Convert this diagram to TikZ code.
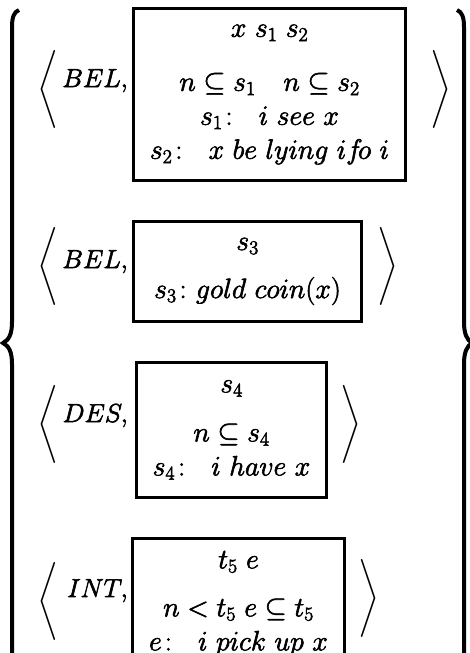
\RequirePackage{fix-cm}
\documentclass[tikz,border=0pt]{standalone}
\usepackage{amsmath,amssymb}
\usepackage{tikz}
\usetikzlibrary{positioning}
\newcommand{\angopen}{$\left\langle\vrule height 43pt depth 43pt width 0pt\right.$}
\newcommand{\angclose}{$\left.\vrule height 43pt depth 43pt width 0pt\right\rangle$}
\newcommand{\inkheavy}{\special{pdf:literal direct 2 Tr 0.6 w}}

\begin{document}
\begin{tikzpicture}[x=1pt,y=-1pt,font=\fontsize{26}{34}\selectfont,
   drs/.style={draw,line width=2.6pt,outer sep=0pt,inner sep=0pt,align=center,anchor=north west,
     font=\fontsize{28}{34}\selectfont\inkheavy},
   mood/.style={anchor=base east,inner sep=0pt,font=\fontsize{26}{34}\selectfont\inkheavy},
   ang/.style={inner sep=0pt},
   setbrace/.style={line width=4pt}]
  \useasboundingbox (0,0) rectangle (470,653);
  % the set of attitudes
  \draw[setbrace] (19,10) .. controls (14,12) and (12,17) .. (12,27) -- (12,322)
    .. controls (12,334) and (9,340) .. (3,343) .. controls (9,346) and (12,352) .. (12,364)
    -- (12,660) .. controls (12,669) and (14,674) .. (19,676);
  \draw[setbrace] (457,10) .. controls (462,12) and (464,17) .. (464,27) -- (464,322)
    .. controls (464,334) and (467,340) .. (472,343) .. controls (467,346) and (464,352) .. (464,364)
    -- (464,660) .. controls (464,669) and (462,674) .. (457,676);
  % belief 1
  \node[drs,minimum width=272.4pt,minimum height=172.4pt] (k1) at (133.3,8.3)
    {$x\ s_1\ s_2$\\[20pt] $n\subseteq s_1\quad n\subseteq s_2$\\
     $s_1\colon\ \ i\ see\ x$\\ $s_2\colon\ \ x\ be\ lying\ if\!o\ i$};
  \node[mood] (m1) at (128,87) {$BEL,$};
  \node[ang] (o1) at (49,94.5) {\angopen};
  \node[ang,right=23pt of k1] (c1) {\angclose};
  % belief 2
  \node[drs,minimum width=228.4pt,minimum height=100.4pt] (k2) at (133.3,221.3)
    {$s_3$\\[14pt] $s_3\colon gold\ coin(x)$};
  \node[mood] (m2) at (128,268) {$BEL,$};
  \node[ang] (o2) at (49,271.5) {\angopen};
  \node[ang,right=14pt of k2] (c2) {\angclose};
  % desire
  \node[drs,minimum width=190.4pt,minimum height=135.4pt] (k3) at (136.3,362.3)
    {$s_4$\\[15pt] $n\subseteq s_4$\\ $s_4\colon\ \ i\ have\ x$};
  \node[mood] (m3) at (128,422) {$DES,$};
  \node[ang] (o3) at (49,430) {\angopen};
  \node[ang,right=12pt of k3] (c3) {\angclose};
  % intention
  \node[drs,minimum width=212.4pt,minimum height=130.4pt] (k4) at (132.3,538.3)
    {$t_5\ e$\\[14pt] $n<t_5\ e\subseteq t_5$\\ $e\colon\ \ i\ pick\ up\ x$};
  \node[mood] (m4) at (128,597) {$INT,$};
  \node[ang] (o4) at (49,606.5) {\angopen};
  \node[ang,right=12pt of k4] (c4) {\angclose};
\end{tikzpicture}
\end{document}
